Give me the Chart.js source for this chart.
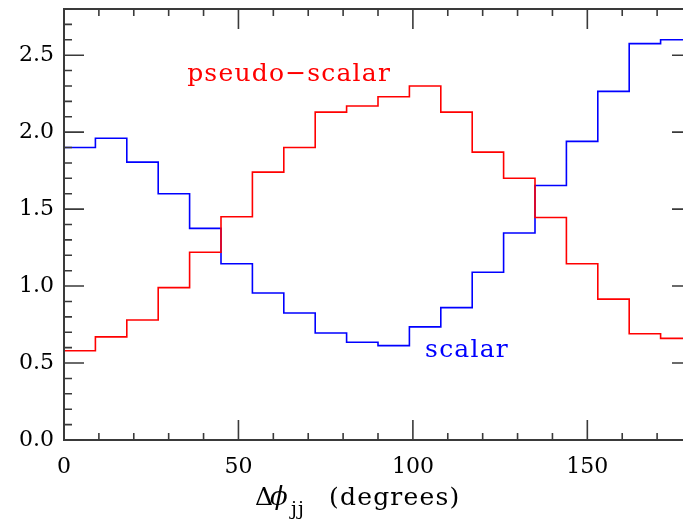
<!DOCTYPE html>
<html>
<head>
<meta charset="utf-8">
<script src="https://cdn.jsdelivr.net/npm/chart.js@4/dist/chart.umd.min.js"></script>
<style>
  html, body { margin: 0; padding: 0; background: #fff; overflow: hidden; }
  #wrap { width: 700px; height: 525px; position: relative; }
</style>
</head>
<body>
<div id="wrap"><canvas id="histChart"></canvas></div>
<script>
// Bin left edges (degrees), last entry closes the final bin
const binEdges = [0, 9, 18, 27, 36, 45, 54, 63, 72, 81, 90, 99, 108, 117, 126, 135, 144, 153, 162, 171, 180];

// Histogram heights per bin
const pseudoScalar = [0.58, 0.67, 0.78, 0.99, 1.22, 1.45, 1.74, 1.90, 2.13, 2.17, 2.23, 2.30, 2.13, 1.87, 1.70, 1.445, 1.145, 0.915, 0.69, 0.66];
const scalar = [1.90, 1.96, 1.805, 1.60, 1.375, 1.145, 0.955, 0.825, 0.695, 0.635, 0.613, 0.735, 0.86, 1.09, 1.345, 1.653, 1.94, 2.265, 2.575, 2.60];

// Axis tick labels
const xTickLabels = [0, 50, 100, 150];
const yTickLabels = [0.0, 0.5, 1.0, 1.5, 2.0, 2.5];

// Turn bin heights into step points, starting from zero on the left edge
function toSteps(values) {
    const pts = [{ x: binEdges[0], y: 0 }];
    values.forEach(function(v, i) {
        pts.push({ x: binEdges[i], y: v });
    });
    pts.push({ x: binEdges[binEdges.length - 1], y: values[values.length - 1] });
    return pts;
}

// Frame with inward ticks on all four sides
const framePlugin = {
    id: 'frame',
    afterDraw(chart) {
        const ctx = chart.ctx;
        const a = chart.chartArea;
        const xs = chart.scales.x;
        const ys = chart.scales.y;
        ctx.save();
        ctx.strokeStyle = '#3a3a3a';
        ctx.lineWidth = 2;
        ctx.strokeRect(a.left, a.top, a.right - a.left, a.bottom - a.top);
        ctx.lineWidth = 1.6;
        ctx.beginPath();
        for (let v = 0; v <= 180; v += 10) {
            const px = xs.getPixelForValue(v);
            const len = (v % 50 === 0) ? 20 : 7;
            ctx.moveTo(px, a.bottom); ctx.lineTo(px, a.bottom - len);
            ctx.moveTo(px, a.top); ctx.lineTo(px, a.top + len);
        }
        for (let k = 0; k <= 28; k++) {
            const py = ys.getPixelForValue(k / 10);
            const len = (k % 5 === 0) ? 20 : 8;
            ctx.moveTo(a.left, py); ctx.lineTo(a.left + len, py);
            ctx.moveTo(a.right, py); ctx.lineTo(a.right - len, py);
        }
        ctx.stroke();
        ctx.restore();
    }
};

// Axis title and curve labels
const textPlugin = {
    id: 'texts',
    afterDraw(chart) {
        const ctx = chart.ctx;
        const xs = chart.scales.x;
        const ys = chart.scales.y;
        ctx.save();
        ctx.textBaseline = 'alphabetic';
        ctx.textAlign = 'left';
        ctx.letterSpacing = '1.2px';

        ctx.fillStyle = '#ff0000';
        ctx.font = '25px "DejaVu Serif"';
        ctx.fillText('pseudo\u2212scalar', xs.getPixelForValue(35.3), ys.getPixelForValue(2.33));

        ctx.fillStyle = '#0000ff';
        ctx.fillText('scalar', xs.getPixelForValue(103.5), ys.getPixelForValue(0.54));

        ctx.fillStyle = '#000';
        const base = 505;
        ctx.letterSpacing = '0px';
        ctx.font = '25px "DejaVu Serif"';
        ctx.fillText('\u0394', 255, base);
        ctx.font = 'italic 26px "DejaVu Serif"';
        ctx.fillText('\u03d5', 270, base);
        ctx.font = '19px "DejaVu Serif"';
        ctx.letterSpacing = '1px';
        ctx.fillText('jj', 291, base + 10);
        ctx.letterSpacing = '1.2px';
        ctx.font = '25px "DejaVu Serif"';
        ctx.fillText('(degrees)', 329, base);
        ctx.restore();
    }
};

new Chart(document.getElementById('histChart'), {
    type: 'line',
    data: {
        datasets: [
            {
                label: 'pseudo-scalar',
                data: toSteps(pseudoScalar),
                borderColor: '#ff0000',
                borderWidth: 1.6,
                stepped: 'before',
                pointRadius: 0,
                fill: false
            },
            {
                label: 'scalar',
                data: toSteps(scalar),
                borderColor: '#0000ff',
                borderWidth: 1.6,
                stepped: 'before',
                pointRadius: 0,
                fill: false
            }
        ]
    },
    options: {
        responsive: true,
        maintainAspectRatio: false,
        animation: false,
        layout: { padding: { top: 9, right: 8, left: 0, bottom: 0 } },
        plugins: {
            legend: { display: false },
            tooltip: { enabled: false }
        },
        scales: {
            x: {
                type: 'linear',
                min: 0,
                max: 180,
                grid: { display: false, drawTicks: false },
                border: { display: false },
                afterFit: function(scale) {
                    scale.height = 85;
                    scale.paddingLeft = 0;
                    scale.paddingRight = 0;
                },
                afterBuildTicks: function(scale) {
                    scale.ticks = xTickLabels.map(function(v) { return { value: v }; });
                },
                ticks: {
                    padding: 14,
                    color: '#000',
                    font: { family: 'DejaVu Serif', size: 22 },
                    maxRotation: 0,
                    callback: function(v) { return String(v); }
                }
            },
            y: {
                min: 0,
                max: 2.8,
                grid: { display: false, drawTicks: false },
                border: { display: false },
                afterFit: function(scale) {
                    scale.width = 64;
                    scale.paddingTop = 0;
                    scale.paddingBottom = 0;
                },
                afterBuildTicks: function(scale) {
                    scale.ticks = yTickLabels.map(function(v) { return { value: v }; });
                },
                ticks: {
                    padding: 10,
                    color: '#000',
                    font: { family: 'DejaVu Serif', size: 22 },
                    callback: function(v) { return Number(v).toFixed(1); }
                }
            }
        }
    },
    plugins: [framePlugin, textPlugin]
});
</script>
</body>
</html>
